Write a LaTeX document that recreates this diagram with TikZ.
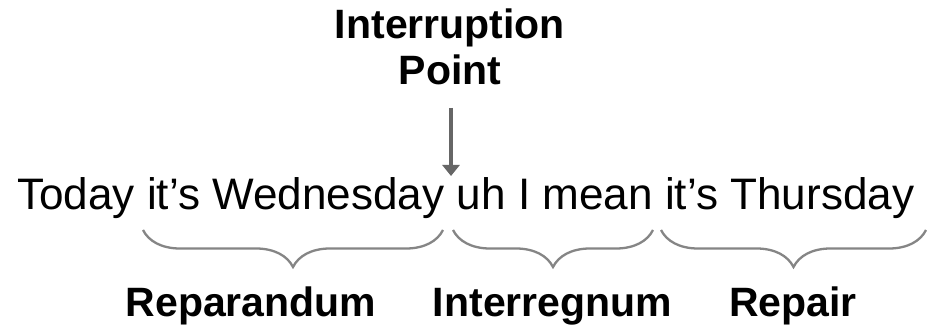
\documentclass[tikz,border=0pt]{standalone}
\usepackage{fontspec}
\setmainfont{Liberation Sans}
\usetikzlibrary{decorations.pathreplacing,arrows.meta}
\definecolor{bracegray}{HTML}{858585}
\definecolor{arrowgray}{HTML}{666666}
\tikzset{
  heading/.style={inner sep=0pt, align=center, font=\fontsize{41}{46}\selectfont\bfseries},
  sentence/.style={inner sep=0pt, anchor=base west, font=\fontsize{44.1}{50}\selectfont},
  partlabel/.style={inner sep=0pt, anchor=base, font=\fontsize{41}{46}\selectfont\bfseries},
  pointer/.style={draw=arrowgray, line width=3.5pt, -{Triangle[width=17pt,length=11pt]}},
  spanbrace/.style={draw=bracegray, line width=2.3pt,
    decorate, decoration={brace, mirror, amplitude=37pt}},
}
\begin{document}
\begin{tikzpicture}[x=1pt, y=-1pt]
  \useasboundingbox[fill=white] (0,0) rectangle (931,328);

  % heading and the arrow marking the interruption point
  \node[heading, anchor=north] (title) at (450,9) {Interruption\\Point};
  \coordinate (ipstart) at (451,108);
  \coordinate (ip) at (451,176);
  \draw[pointer] (ipstart) -- (ip);

  % the disfluent utterance
  \node[sentence] (utt) at (17,210) {Today it’s Wednesday uh I mean it’s Thursday};

  % brace end points under each span
  \coordinate (b1l) at (143,230); \coordinate (b1r) at (443,230);
  \coordinate (b2l) at (453,230); \coordinate (b2r) at (653,230);
  \coordinate (b3l) at (661,230); \coordinate (b3r) at (926,230);

  \draw[spanbrace] (b1l) -- (b1r);
  \draw[spanbrace] (b2l) -- (b2r);
  \draw[spanbrace] (b3l) -- (b3r);

  % span names
  \node[partlabel] (reparandum) at (251,317) {Reparandum};
  \node[partlabel] (interregnum) at (552.5,317) {Interregnum};
  \node[partlabel] (repair) at (793,317) {Repair};
\end{tikzpicture}
\end{document}
